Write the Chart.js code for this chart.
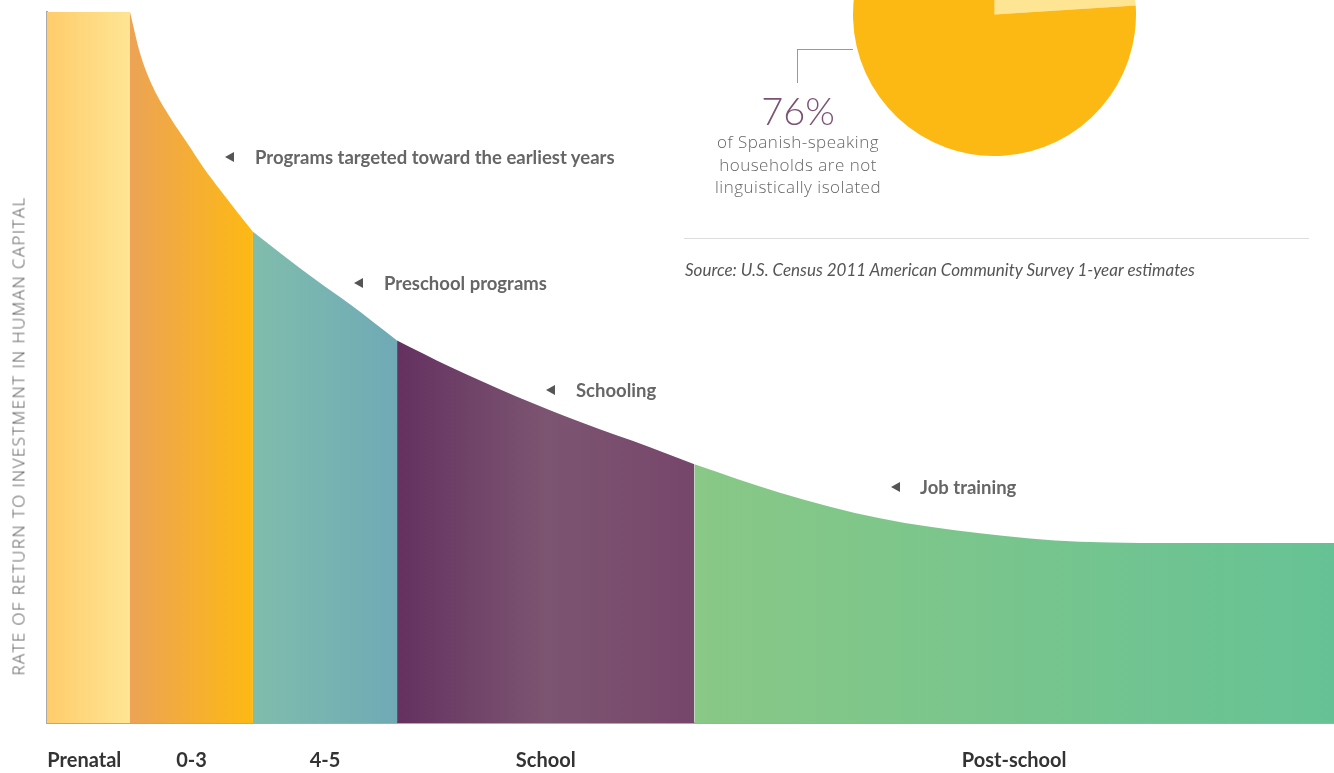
<!DOCTYPE html>
<html lang="en">
<head>
    <meta charset="UTF-8">
    <title>Rate of Return to Investment in Human Capital</title>
    <script src="https://cdn.jsdelivr.net/npm/chart.js"></script>
    <style>
        html, body { margin: 0; padding: 0; background: #fff; overflow: hidden; }
        .wrap { position: relative; width: 1334px; height: 773px; }
        #curveChart { position: absolute; left: 0; top: 0; }
        #pieChart { position: absolute; left: 853px; top: -127px; }
        .note { position: absolute; font-family: Lato, "Open Sans", sans-serif; font-weight: bold; font-size: 18.5px; color: #666; line-height: 20px; white-space: nowrap; }
        .tri { position: absolute; width: 0; height: 0; border-top: 5px solid transparent; border-bottom: 5px solid transparent; border-right: 9px solid #555; }
        .ytitle { position: absolute; left: 18px; top: 436px; transform: translate(-50%, -50%) rotate(-90deg); font-family: "Open Sans", sans-serif; font-weight: 300; font-size: 17px; letter-spacing: 1.4px; color: #555; white-space: nowrap; }
        .pct { position: absolute; left: 698px; width: 200px; top: 88px; text-align: center; font-family: Lato, sans-serif; font-weight: 300; font-size: 38px; color: #7b5273; line-height: 44px; }
        .pctText { position: absolute; left: 658px; width: 280px; top: 131px; text-align: center; font-family: "Open Sans", sans-serif; font-weight: 300; font-size: 17px; letter-spacing: 0.5px; color: #666; line-height: 22.5px; }
        .leader-h { position: absolute; left: 797px; top: 49px; width: 56px; height: 1px; background: #999; }
        .leader-v { position: absolute; left: 797px; top: 49px; width: 1px; height: 34px; background: #999; }
        .rule { position: absolute; left: 684px; top: 238px; width: 625px; height: 1px; background: #ddd; }
        .source { position: absolute; left: 685px; top: 260px; font-family: Lato, sans-serif; font-style: italic; font-size: 17px; color: #555; line-height: 20px; white-space: nowrap; }
    </style>
</head>
<body>
<div class="wrap">
    <canvas id="curveChart" width="1334" height="773"></canvas>
    <canvas id="pieChart" width="283" height="283"></canvas>

    <div class="ytitle">RATE OF RETURN TO INVESTMENT IN HUMAN CAPITAL</div>

    <div class="tri" style="left:225px; top:152px;"></div>
    <div class="note" style="left:255px; top:147px;">Programs targeted toward the earliest years</div>
    <div class="tri" style="left:354px; top:278px;"></div>
    <div class="note" style="left:384px; top:273px;">Preschool programs</div>
    <div class="tri" style="left:546px; top:385px;"></div>
    <div class="note" style="left:576px; top:380px;">Schooling</div>
    <div class="tri" style="left:891px; top:482px;"></div>
    <div class="note" style="left:920px; top:477px;">Job training</div>

    <div class="leader-h"></div>
    <div class="leader-v"></div>
    <div class="pct">76%</div>
    <div class="pctText">of Spanish-speaking<br>households are not<br>linguistically isolated</div>
    <div class="rule"></div>
    <div class="source">Source: U.S. Census 2011 American Community Survey 1-year estimates</div>
</div>

<script>
    // stages along the x axis (0-100 position scale)
    const stageLabels = ['Prenatal', '0-3', '4-5', 'School', 'Post-school'];
    const stageBounds = [0, 6.45, 16.0, 27.2, 50.3, 100];

    // rate of return curve (x position, return 0-100)
    const curveX = [0, 6.45, 7.23, 8.24, 9.56, 10.88, 12.12, 13.44, 14.76, 16.0,
                    18.34, 20.98, 23.54, 27.2, 31.31, 36.52, 41.65, 46.85, 50.3,
                    56.95, 64.72, 72.49, 80.26, 89.59, 100];
    const curveY = [100, 100, 94.2, 89.4, 85.2, 81.6, 78.2, 75.0, 71.9, 69.1,
                    65.8, 62.2, 58.9, 53.8, 50.1, 45.9, 42.2, 38.8, 36.4,
                    32.4, 28.8, 26.7, 25.5, 25.3, 25.3];

    // gradient stops per stage (left -> right)
    const stageColors = [
        ['#ffcc6b', '#fee594'],
        ['#eca356', '#fdb913'],
        ['#80bdac', '#6faab6'],
        ['#643160', '#7c5571', '#77466b'],
        ['#89c886', '#66c295']
    ];

    // pie: share of Spanish-speaking households
    const pieLabels = ['Linguistically isolated', 'Not linguistically isolated'];
    const pieValues = [24, 76];
    const pieColors = ['#fee594', '#fdb913'];

    function stagePoints(i) {
        const lo = stageBounds[i], hi = stageBounds[i + 1];
        const pts = [];
        curveX.forEach((x, k) => {
            if (x >= lo - 1e-9 && x <= hi + 1e-9) pts.push({ x: x, y: curveY[k] });
        });
        return pts;
    }

    function stageFill(i) {
        return function (ctx) {
            const chart = ctx.chart;
            if (!chart.chartArea) return stageColors[i][0];
            const x0 = chart.scales.x.getPixelForValue(stageBounds[i]);
            const x1 = chart.scales.x.getPixelForValue(stageBounds[i + 1]);
            const g = chart.ctx.createLinearGradient(x0, 0, x1, 0);
            const c = stageColors[i];
            c.forEach((col, k) => g.addColorStop(k / (c.length - 1), col));
            return g;
        };
    }

    const datasets = stageLabels.map((name, i) => ({
        label: name,
        data: stagePoints(i),
        fill: 'origin',
        backgroundColor: stageFill(i),
        borderWidth: 0,
        borderColor: 'rgba(0,0,0,0)',
        pointRadius: 0,
        cubicInterpolationMode: 'monotone'
    }));

    // label positions: middle of each stage (Prenatal sits a touch left)
    const stageCenters = stageLabels.map((_, i) => (stageBounds[i] + stageBounds[i + 1]) / 2);
    stageCenters[0] = 2.9;

    new Chart(document.getElementById('curveChart'), {
        type: 'line',
        data: { datasets: datasets },
        options: {
            responsive: false,
            animation: false,
            layout: { padding: { top: 12, right: 0, left: 0, bottom: 0 } },
            plugins: { legend: { display: false }, tooltip: { enabled: false } },
            scales: {
                x: {
                    type: 'linear',
                    min: 0,
                    max: 100,
                    grid: { display: false, drawTicks: false },
                    border: { display: true, color: '#aaaaaa', width: 2 },
                    afterBuildTicks: s => { s.ticks = stageCenters.map(v => ({ value: v })); },
                    afterFit: s => { s.height = 50; },
                    ticks: {
                        autoSkip: false,
                        maxRotation: 0,
                        padding: 26,
                        color: '#333',
                        font: { family: 'Lato', size: 20, weight: 'bold' },
                        callback: (v, i) => stageLabels[i]
                    }
                },
                y: {
                    min: 0,
                    max: 100,
                    grid: { display: false, drawTicks: false },
                    border: { display: true, color: '#aaaaaa', width: 2 },
                    ticks: { display: false },
                    afterFit: s => { s.width = 47; }
                }
            }
        }
    });

    new Chart(document.getElementById('pieChart'), {
        type: 'pie',
        data: {
            labels: pieLabels,
            datasets: [{ data: pieValues, backgroundColor: pieColors, borderWidth: 0 }]
        },
        options: {
            responsive: false,
            animation: false,
            layout: { padding: 0 },
            plugins: { legend: { display: false }, tooltip: { enabled: false } }
        }
    });
</script>
</body>
</html>
